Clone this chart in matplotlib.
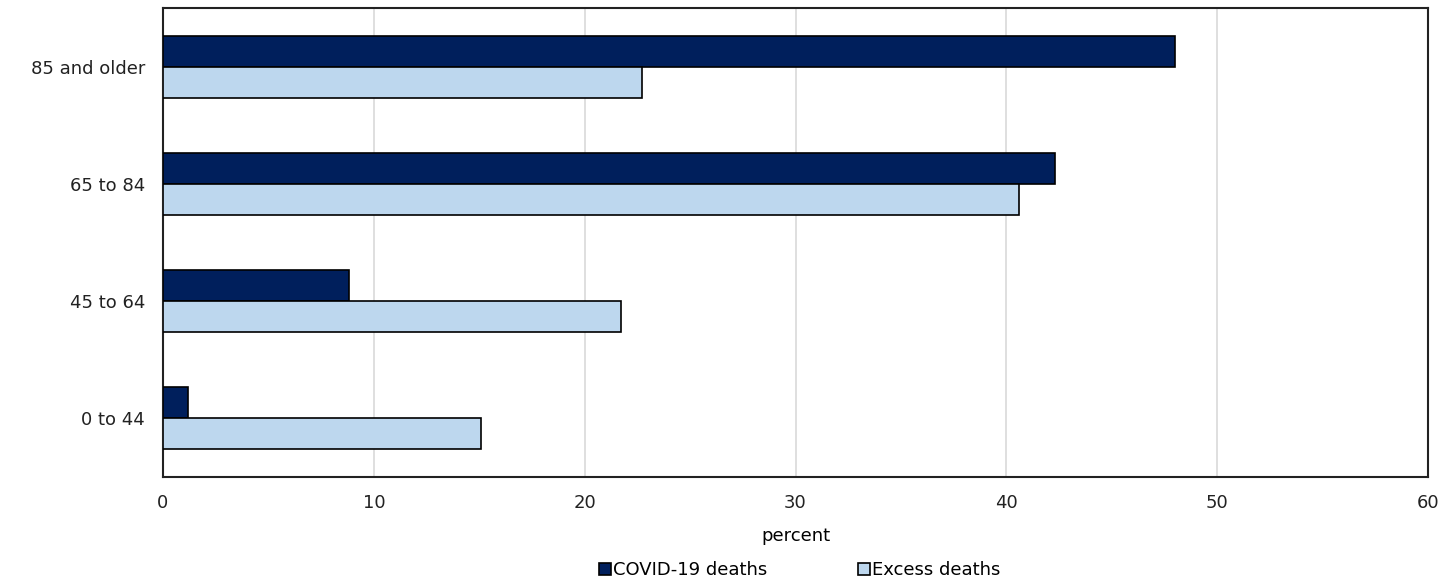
import matplotlib
matplotlib.use("Agg")
import matplotlib.pyplot as plt
import numpy as np

# ── data ──────────────────────────────────────────────────────────────────────
age_groups = ["0 to 44", "45 to 64", "65 to 84", "85 and older"]
covid_deaths = [1.2, 8.8, 42.3, 48.0]
excess_deaths = [15.1, 21.7, 40.6, 22.7]
x_ticks = [0, 10, 20, 30, 40, 50, 60]

DARK = "#001f5c"
LIGHT = "#bdd7ee"

plt.rcParams["font.family"] = ["DejaVu Sans"]
FS = 13

fig = plt.figure(figsize=(14.49, 5.8), dpi=100)
ax = fig.add_axes([163 / 1449, 1 - 477 / 580, (1428 - 163) / 1449, (477 - 8) / 580])

y = np.arange(len(age_groups))
h = 0.265
ax.barh(y + h / 2, covid_deaths, height=h, color=DARK, edgecolor="black",
        linewidth=1.2, label="COVID-19 deaths", zorder=3)
ax.barh(y - h / 2, excess_deaths, height=h, color=LIGHT, edgecolor="black",
        linewidth=1.2, label="Excess deaths", zorder=3)

ax.set_xlim(0, 60)
ax.set_ylim(-0.5, len(age_groups) - 0.5)
ax.set_xticks(x_ticks)
ax.set_yticks(y)
ax.set_yticklabels(age_groups)
ax.tick_params(axis="both", length=0, labelsize=FS, colors="#222222")
ax.tick_params(axis="x", pad=12)
ax.tick_params(axis="y", pad=13)
ax.grid(axis="x", color="#d9d9d9", linewidth=1.2, zorder=0)
for s in ax.spines.values():
    s.set_color("#222222")
    s.set_linewidth(1.5)

ax.set_xlabel("percent", fontsize=FS, labelpad=11)

leg = fig.legend(loc="lower center", bbox_to_anchor=(0.552, -0.027), ncol=2,
                 frameon=False, fontsize=FS, handlelength=0.65, handleheight=0.65,
                 handletextpad=0.15, columnspacing=5.0)

fig.savefig("out.png", dpi=100)
